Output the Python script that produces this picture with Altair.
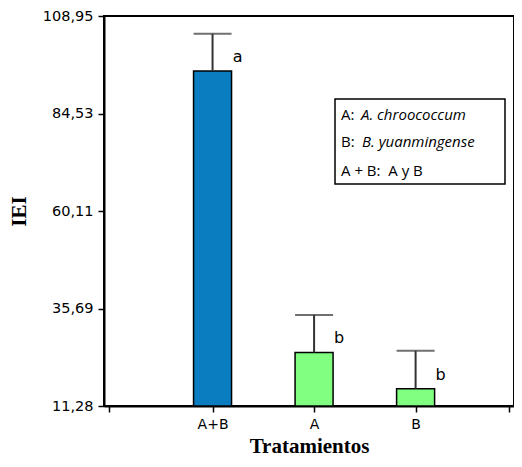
import altair as alt
import pandas as pd

# Data
tratamientos = ["A+B", "A", "B"]
posicion = [1, 2, 3]
iei_media = [95.2, 24.7, 15.6]
iei_superior = [104.5, 34.1, 25.1]
letras = ["a", "b", "b"]
colores = ["#0A7DC0", "#80FF80", "#80FF80"]
y_ticks = [11.28, 35.69, 60.11, 84.53, 108.95]
x_dom = [-0.02, 3.92]

W, H = 410, 390

df = pd.DataFrame({
    "pos": posicion,
    "trat": tratamientos,
    "media": iei_media,
    "sup": iei_superior,
    "letra": letras,
    "color": colores,
})

label_expr = " : ".join(
    f"datum.value == {p} ? '{t}'" for p, t in zip(posicion, tratamientos)
) + " : ''"

x_scale = alt.Scale(domain=x_dom, nice=False, zero=False)
x_axis = alt.Axis(
    title="Tratamientos", values=[x_dom[0]] + posicion + [x_dom[1]], labelExpr=label_expr,
    grid=False, labelAngle=0, labelFont="DejaVu Sans", labelFontSize=14,
    labelColor="black", labelPadding=5, tickColor="black", tickSize=6, tickWidth=1.5,
    domainColor="black", domainWidth=2, labelFlush=False, labelOverlap=False,
    titleFont="Liberation Serif", titleFontSize=21, titleFontWeight="bold",
    titleColor="black", titlePadding=4,
)
y_scale = alt.Scale(domain=[y_ticks[0], y_ticks[-1]], nice=False, zero=False)
y_axis = alt.Axis(
    title="IEI", values=y_ticks, grid=False,
    labelExpr="replace(format(datum.value, '.2f'), '.', ',')",
    labelFont="DejaVu Sans", labelFontSize=14.5, labelColor="black", labelPadding=5,
    tickColor="black", tickSize=6, tickWidth=1.5, domainColor="black", domainWidth=2,
    labelFlush=False, labelOverlap=False,
    titleFont="Liberation Serif", titleFontSize=21, titleFontWeight="bold",
    titleColor="black", titlePadding=13,
)

X = alt.X("pos:Q", scale=x_scale, axis=x_axis)

def Y(field):
    return alt.Y(field, type="quantitative", scale=y_scale, axis=y_axis)

base = alt.Chart(df)

bars = base.mark_bar(stroke="black", strokeWidth=1.5, size=38).encode(
    x=X,
    y=Y("media"),
    y2=alt.datum(y_ticks[0]),
    color=alt.Color("color:N", scale=None),
)
err_line = base.mark_rule(color="#333333", strokeWidth=2).encode(
    x=X, y=Y("media"), y2="sup:Q"
)
err_cap = base.mark_tick(color="#333333", thickness=2, size=38, orient="horizontal").encode(
    x=X, y=Y("sup")
)
letters = base.mark_text(
    font="DejaVu Sans", fontSize=16, dx=25, dy=-14, align="center", baseline="middle", color="black"
).encode(x=X, y=Y("media"), text="letra:N")

# Legend box (annotation)
box = alt.Chart(pd.DataFrame({"k": [0]})).mark_rect(
    fill="white", stroke="black", strokeWidth=1.5
).encode(x=alt.value(231), x2=alt.value(401), y=alt.value(83), y2=alt.value(168))

def txt(s, x, y, style="normal"):
    return alt.Chart(pd.DataFrame({"t": [s]})).mark_text(
        font="Open Sans", fontSize=15, fontStyle=style, align="left", baseline="middle", color="black"
    ).encode(x=alt.value(x), y=alt.value(y), text="t:N")

legend_txt = [
    txt("A:", 237, 99),
    txt("A. chroococcum", 257, 99, "italic"),
    txt("B:", 237, 126),
    txt("B. yuanmingense", 258, 126, "italic"),
    txt("A + B:\u00a0\u00a0A y B", 237, 155),
]

chart = alt.layer(bars, err_line, err_cap, letters, box, *legend_txt).properties(
    width=W, height=H,
    autosize=alt.AutoSizeParams(type="none"),
    padding={"left": 96, "top": 8, "right": 0, "bottom": 53},
    background="white",
).configure_view(stroke="black", strokeWidth=2)

chart.save("out.html", embed_options={"renderer": "svg", "actions": False})
